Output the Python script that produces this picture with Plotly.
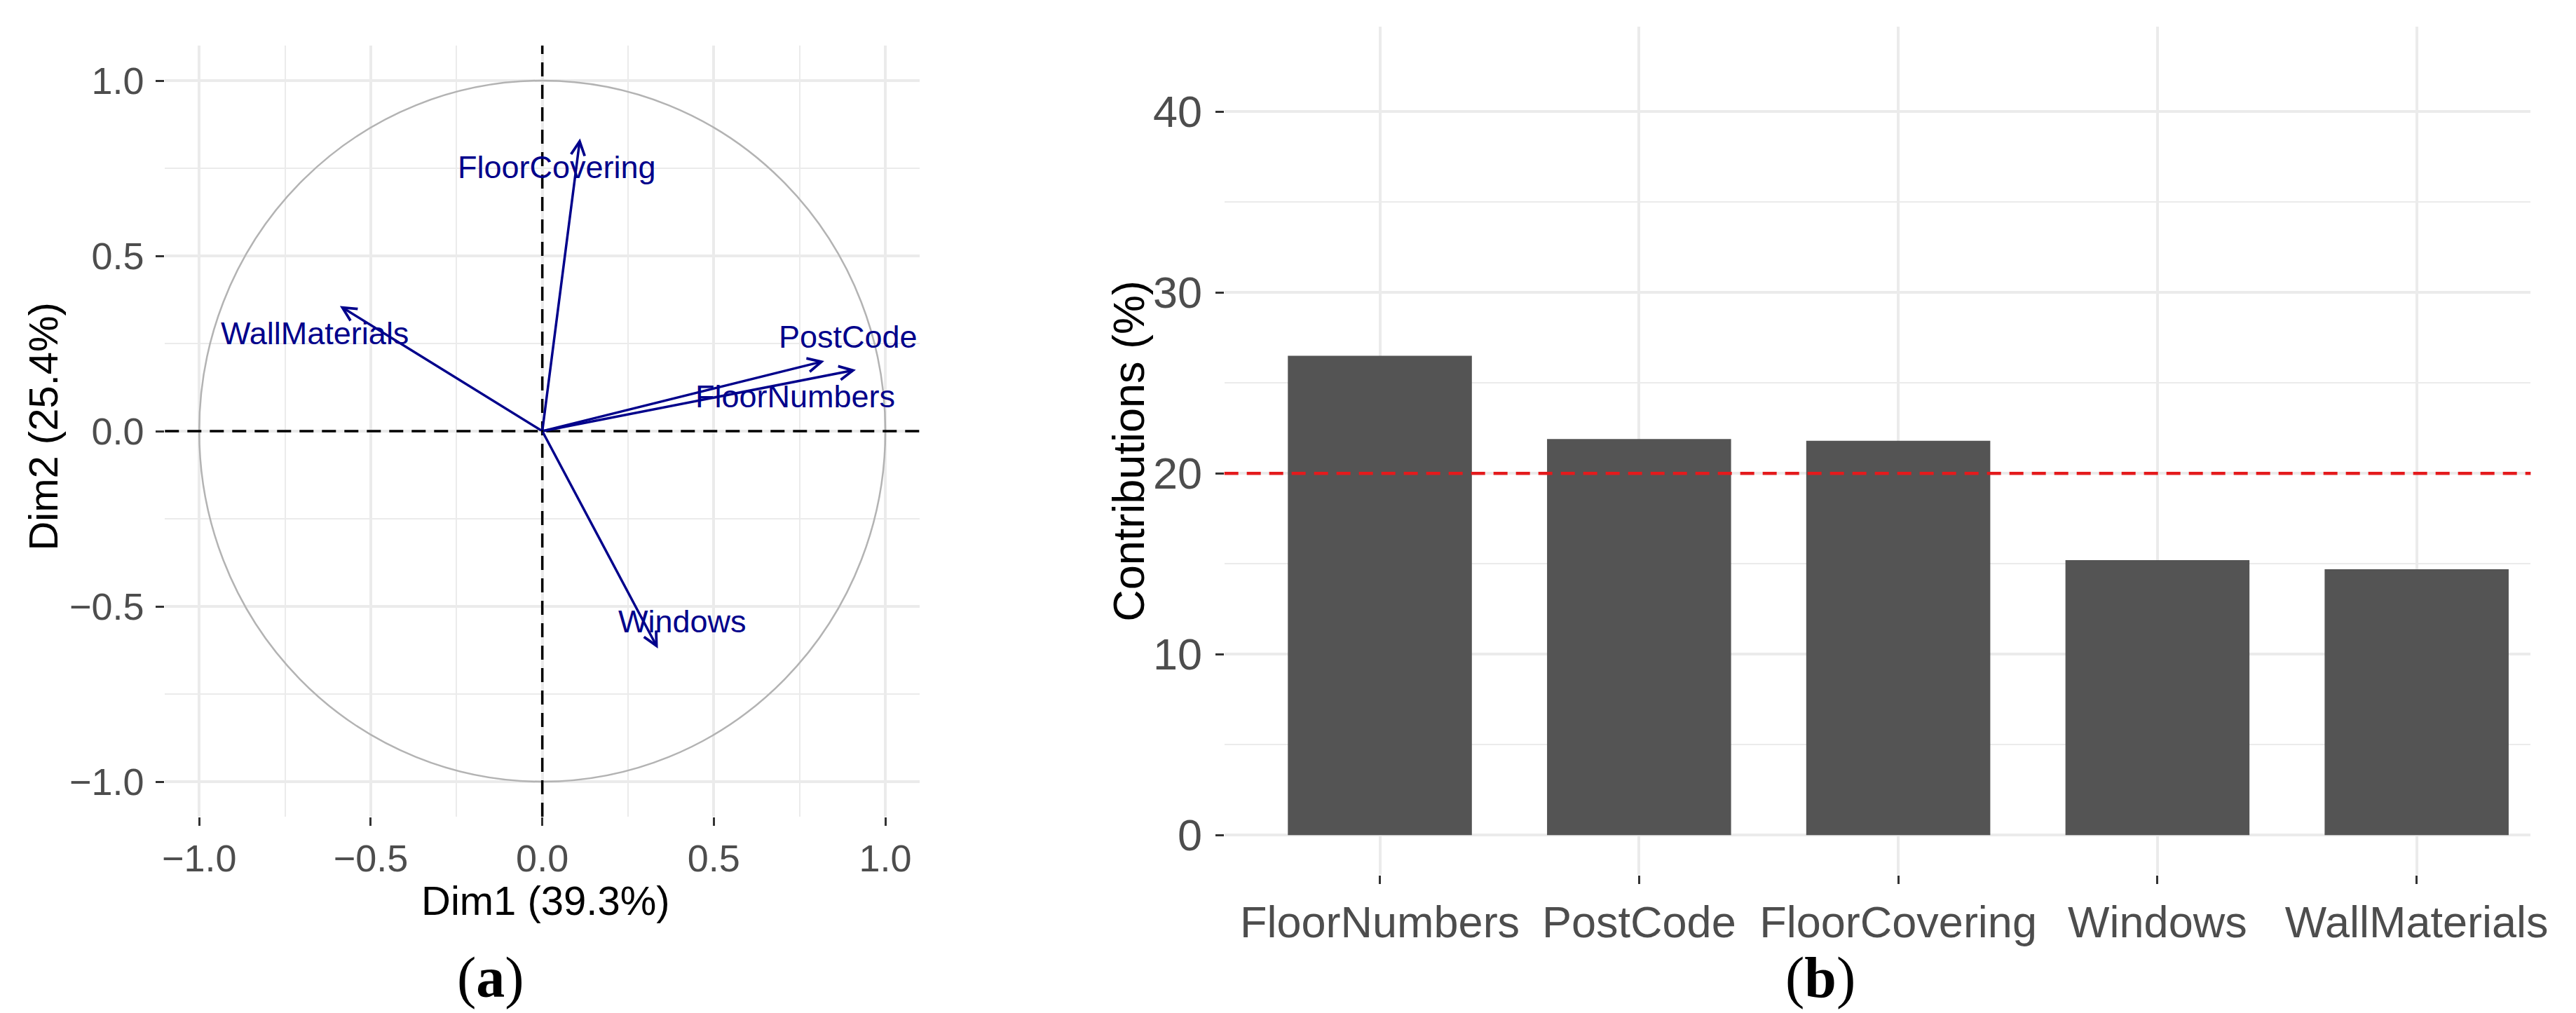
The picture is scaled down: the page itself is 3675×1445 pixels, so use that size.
import plotly.graph_objects as go

# ---------------- data ----------------
# (a) PCA variable correlation circle
variables = ["FloorCovering", "WallMaterials", "PostCode", "FloorNumbers", "Windows"]
dim1 = [0.11, -0.59, 0.822, 0.914, 0.337]
dim2 = [0.835, 0.357, 0.200, 0.175, -0.620]
dim1_label = "Dim1 (39.3%)"
dim2_label = "Dim2 (25.4%)"
circle_ticks = [-1.0, -0.5, 0.0, 0.5, 1.0]
circle_ticktext = ["\u22121.0", "\u22120.5", "0.0", "0.5", "1.0"]

# (b) contributions
contrib_categories = ["FloorNumbers", "PostCode", "FloorCovering", "Windows", "WallMaterials"]
contrib_values = [26.5, 21.9, 21.8, 15.2, 14.7]
contrib_reference = 20
contrib_ticks = [0, 10, 20, 30, 40]
contrib_title = "Contributions (%)"

# ---------------- styling ----------------
W, H = 3675, 1445
SANS = "Liberation Sans, Arial, sans-serif"
SERIF = "Liberation Serif, Times New Roman, serif"
TICK_COL = "#4D4D4D"
GRID = "#EBEBEB"
ARROW_COL = "#00008B"

# label offsets (relative to arrow tip, data units) -- layout only
label_offsets = {
    "FloorCovering": (-0.067, -0.081),
    "WallMaterials": (-0.073, -0.077),
    "PostCode": (0.070, 0.070),
    "FloorNumbers": (-0.176, -0.076),
    "Windows": (0.072, 0.078),
}

def px_x(p):
    return p / W

def px_y(p):
    return 1 - p / H

# panel pixel boxes
L_x0, L_x1, L_y0, L_y1 = 225, 1310, 57, 1157
R_x0, R_x1, R_y0, R_y1 = 1748, 3626, 30, 1240

fig = go.Figure()

# bar trace
fig.add_trace(go.Bar(
    x=list(range(1, len(contrib_categories) + 1)), y=contrib_values,
    marker=dict(color="#545454", line=dict(width=0)),
    width=0.71, xaxis="x2", yaxis="y2", showlegend=False,
))

# invisible trace to activate left axes
fig.add_trace(go.Scatter(x=[0], y=[0], mode="markers", marker=dict(opacity=0),
                         xaxis="x", yaxis="y", showlegend=False, hoverinfo="skip"))

shapes = []
# correlation circle
shapes.append(dict(type="circle", xref="x", yref="y", x0=-1, x1=1, y0=-1, y1=1,
                   line=dict(color="#B3B3B3", width=2.5), layer="above"))
# dashed zero lines
shapes.append(dict(type="line", xref="x", yref="y domain", x0=0, x1=0, y0=0, y1=1,
                   line=dict(color="black", width=3.5, dash="20px,12px")))
shapes.append(dict(type="line", xref="x domain", yref="y", x0=0, x1=1, y0=0, y1=0,
                   line=dict(color="black", width=3.5, dash="20px,12px")))
# red reference line
shapes.append(dict(type="line", xref="x2 domain", yref="y2", x0=0, x1=1,
                   y0=contrib_reference, y1=contrib_reference,
                   line=dict(color="#E41A1C", width=4.5, dash="20px,12px")))

annotations = []
# arrows + labels
for name, vx, vy in zip(variables, dim1, dim2):
    annotations.append(dict(
        x=vx, y=vy, ax=0, ay=0, xref="x", yref="y", axref="x", ayref="y",
        text="", showarrow=True, arrowhead=5, arrowsize=1.1, arrowwidth=3.5,
        arrowcolor=ARROW_COL, standoff=0, startstandoff=0))
for name, vx, vy in zip(variables, dim1, dim2):
    dx, dy = label_offsets[name]
    annotations.append(dict(
        x=vx + dx, y=vy + dy, xref="x", yref="y", text=name, showarrow=False,
        font=dict(family=SANS, size=45, color=ARROW_COL),
        xanchor="center", yanchor="middle"))

# axis titles
annotations.append(dict(x=px_x(772), y=px_y(1276), xref="paper", yref="paper",
                        text=dim1_label, showarrow=False,
                        font=dict(family=SANS, size=58, color="black"),
                        xanchor="center", yanchor="middle"))
annotations.append(dict(x=px_x(50), y=px_y(600), xref="paper", yref="paper",
                        text=dim2_label, showarrow=False, textangle=-90,
                        font=dict(family=SANS, size=58, color="black"),
                        xanchor="center", yanchor="middle"))
annotations.append(dict(x=px_x(1610), y=px_y(635), xref="paper", yref="paper",
                        text=contrib_title, showarrow=False, textangle=-90,
                        font=dict(family=SANS, size=63, color="black"),
                        xanchor="center", yanchor="middle"))
# panel tags
annotations.append(dict(x=px_x(693), y=px_y(1386), xref="paper", yref="paper",
                        text="(<b>a</b>)", showarrow=False,
                        font=dict(family=SERIF, size=82, color="black"),
                        xanchor="center", yanchor="middle"))
annotations.append(dict(x=px_x(2605), y=px_y(1386), xref="paper", yref="paper",
                        text="(<b>b</b>)", showarrow=False,
                        font=dict(family=SERIF, size=82, color="black"),
                        xanchor="center", yanchor="middle"))

axis_common = dict(showline=False, zeroline=False, showgrid=True, gridcolor=GRID,
                   gridwidth=4, ticks="outside", ticklen=12, tickwidth=3,
                   tickcolor="#333333", fixedrange=True)

fig.update_layout(
    width=W, height=H, autosize=False,
    margin=dict(l=0, r=0, t=0, b=0),
    paper_bgcolor="white", plot_bgcolor="white",
    showlegend=False,
    xaxis=dict(domain=[px_x(L_x0), px_x(L_x1)], range=[-1.1, 1.1], anchor="y",
               tickvals=circle_ticks, ticktext=circle_ticktext,
               tickfont=dict(family=SANS, size=54, color=TICK_COL),
               minor=dict(tickvals=[-0.75, -0.25, 0.25, 0.75], showgrid=True,
                          gridcolor=GRID, gridwidth=2, ticks=""),
               **axis_common),
    yaxis=dict(domain=[px_y(L_y1), px_y(L_y0)], range=[-1.1, 1.1], anchor="x",
               tickvals=circle_ticks, ticktext=circle_ticktext,
               tickfont=dict(family=SANS, size=54, color=TICK_COL),
               ticklabelstandoff=6,
               minor=dict(tickvals=[-0.75, -0.25, 0.25, 0.75], showgrid=True,
                          gridcolor=GRID, gridwidth=2, ticks=""),
               **axis_common),
    xaxis2=dict(domain=[px_x(R_x0), px_x(R_x1)], range=[0.4, 5.44], anchor="y2",
                tickvals=list(range(1, len(contrib_categories) + 1)),
                ticktext=contrib_categories,
                tickfont=dict(family=SANS, size=63, color=TICK_COL),
                **axis_common),
    yaxis2=dict(domain=[px_y(R_y1), px_y(R_y0)], range=[-2.2, 44.7], anchor="x2",
                tickvals=contrib_ticks, ticktext=[str(t) for t in contrib_ticks],
                tickfont=dict(family=SANS, size=63, color=TICK_COL),
                ticklabelstandoff=6,
                minor=dict(tickvals=[5, 15, 25, 35], showgrid=True,
                           gridcolor=GRID, gridwidth=2, ticks=""),
                **axis_common),
    shapes=shapes,
    annotations=annotations,
)

fig.write_html("out.html")
